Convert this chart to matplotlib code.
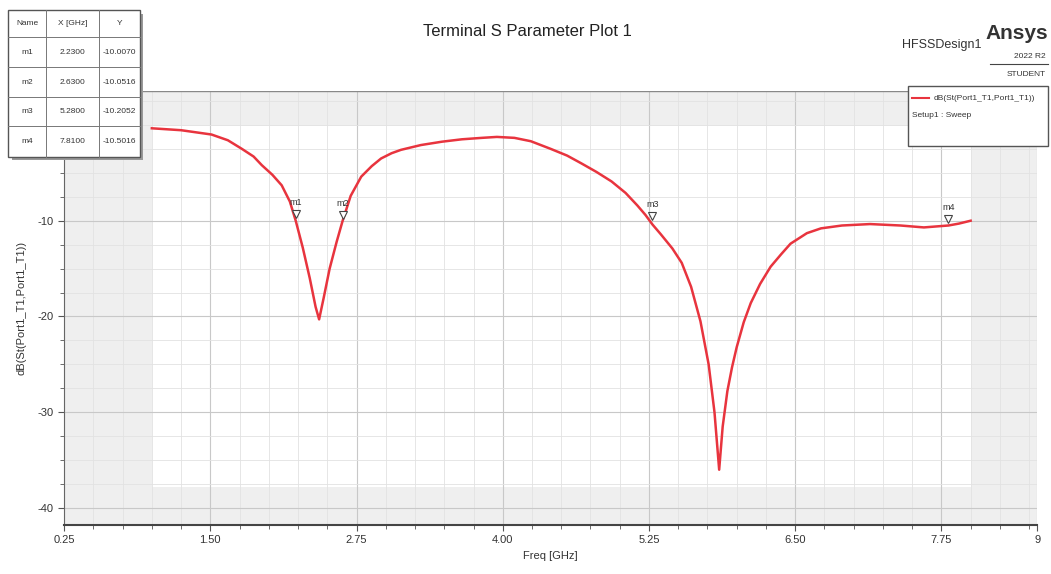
import numpy as np
import matplotlib
matplotlib.use("Agg")
import matplotlib.pyplot as plt
from matplotlib.patches import Rectangle

plt.rcParams['font.family'] = ['Liberation Sans Narrow', 'Liberation Sans', 'DejaVu Sans']

# S11 curve (GHz, dB)
freq = [1.00, 1.25, 1.51, 1.65, 1.77, 1.87, 1.94, 2.03, 2.11, 2.18, 2.23, 2.29,
        2.35, 2.40, 2.43, 2.47, 2.52, 2.58, 2.63, 2.70, 2.79, 2.88, 2.96, 3.05,
        3.13, 3.30, 3.48, 3.65, 3.82, 3.95, 4.10, 4.24, 4.41, 4.55, 4.67, 4.80,
        4.93, 5.05, 5.15, 5.22, 5.28, 5.35, 5.45, 5.53, 5.61, 5.69, 5.76, 5.81,
        5.85, 5.88, 5.92, 5.96, 6.00, 6.06, 6.12, 6.20, 6.29, 6.38, 6.46, 6.60,
        6.72, 6.90, 7.14, 7.40, 7.60, 7.81, 7.90, 8.00]
s11 = [-0.35, -0.55, -1.0, -1.6, -2.5, -3.3, -4.2, -5.2, -6.3, -8.0, -10.0, -12.8,
       -16.0, -19.0, -20.3, -18.0, -15.0, -12.2, -10.05, -7.4, -5.4, -4.3, -3.5, -2.95,
       -2.6, -2.1, -1.75, -1.5, -1.35, -1.25, -1.35, -1.7, -2.5, -3.2, -4.0, -4.9,
       -5.9, -7.1, -8.4, -9.4, -10.4, -11.4, -12.9, -14.4, -16.9, -20.5, -25.0, -30.0,
       -36.0, -31.5, -27.8, -25.3, -23.2, -20.6, -18.6, -16.6, -14.8, -13.5, -12.4, -11.3,
       -10.8, -10.5, -10.35, -10.5, -10.7, -10.5, -10.3, -10.0]

marker_names = ["m1", "m2", "m3", "m4"]
marker_x = [2.23, 2.63, 5.28, 7.81]
marker_y = [-10.0070, -10.0516, -10.2052, -10.5016]

xticks = [0.25, 1.50, 2.75, 4.00, 5.25, 6.50, 7.75, 8.57]
xticklabels = ["0.25", "1.50", "2.75", "4.00", "5.25", "6.50", "7.75", "9"]
yticks = [-40, -30, -20, -10]

fig = plt.figure(figsize=(10.51, 5.74), dpi=100)
ax = fig.add_axes([0.061, 0.0854, 0.926, 0.756])
ax.set_xlim(0.25, 8.57)
ax.set_ylim(-41.77, 3.54)
ax.set_facecolor("#efefef")

# white data region
ax.add_patch(Rectangle((min(freq), -37.8), max(freq) - min(freq), 37.7,
                       facecolor="white", edgecolor="none", zorder=0))

ax.set_xticks(xticks)
ax.set_xticklabels(xticklabels, fontsize=8)
ax.set_xticks(np.arange(0.25, 8.57, 0.25), minor=True)
ax.set_yticks(yticks)
ax.set_yticklabels([str(v) for v in yticks], fontsize=8)
ax.set_yticks(np.arange(-40, 3.5, 2.5), minor=True)
ax.grid(which="major", color="#c8c8c8", lw=0.8, zorder=1)
ax.grid(which="minor", color="#e2e2e2", lw=0.6, zorder=1)
ax.tick_params(which="both", direction="out", color="#555555", length=4, labelcolor="#333333")
ax.tick_params(which="minor", length=3)
for s in ["top", "right"]:
    ax.spines[s].set_visible(False)
ax.spines["left"].set_color("#666666")
ax.spines["bottom"].set_color("#444444")
ax.spines["bottom"].set_linewidth(1.5)
ax.axhline(3.54, color="#888888", lw=1)

ax.plot(freq, s11, color="#e8343e", lw=1.8, zorder=3, solid_joinstyle="round")

for n, mx, my in zip(marker_names, marker_x, marker_y):
    ax.plot(mx, my + 0.7, marker="v", ms=6, mfc="white", mec="#444444", mew=0.8, zorder=4)
    ax.text(mx, my + 1.4, n, fontsize=6.5, ha="center", va="bottom", color="#333333", zorder=4)

ax.set_xlabel("Freq [GHz]", fontsize=8, color="#333333")
ax.set_ylabel("dB(St(Port1_T1,Port1_T1))", fontsize=8, color="#333333", labelpad=8)

fig.text(0.502, 0.945, "Terminal S Parameter Plot 1", fontsize=12, ha="center", va="center", color="#222222")
fig.text(0.997, 0.942, "Ansys", fontsize=15, fontweight="bold", ha="right", va="center", color="#333333")
fig.text(0.934, 0.922, "HFSSDesign1", fontsize=9, ha="right", va="center", color="#333333")
fig.text(0.995, 0.902, "2022 R2", fontsize=6, ha="right", va="center", color="#333333")
fig.add_artist(plt.Line2D([0.942, 0.997], [0.889, 0.889], color="#444444", lw=0.8, transform=fig.transFigure))
fig.text(0.995, 0.871, "STUDENT", fontsize=6, ha="right", va="center", color="#333333")

# legend box
fig.add_artist(Rectangle((0.864, 0.745), 0.133, 0.106, transform=fig.transFigure,
                         facecolor="white", edgecolor="#555555", lw=1, zorder=5))
fig.add_artist(plt.Line2D([0.868, 0.884], [0.829, 0.829], color="#e8343e", lw=1.5,
                          transform=fig.transFigure, zorder=6))
fig.text(0.888, 0.829, "dB(St(Port1_T1,Port1_T1))", fontsize=6, va="center", color="#333333", zorder=6)
fig.text(0.868, 0.799, "Setup1 : Sweep", fontsize=6, va="center", color="#333333", zorder=6)

# marker table
col_x = [0.008, 0.044, 0.094, 0.133]
row_y = [0.982, 0.935, 0.883, 0.831, 0.780, 0.727]
fig.add_artist(Rectangle((col_x[0] + 0.003, row_y[-1] - 0.006), col_x[-1] - col_x[0], row_y[0] - row_y[-1],
                         transform=fig.transFigure, facecolor="#999999", edgecolor="none", zorder=6))
fig.add_artist(Rectangle((col_x[0], row_y[-1]), col_x[-1] - col_x[0], row_y[0] - row_y[-1],
                         transform=fig.transFigure, facecolor="white", edgecolor="#555555", lw=1, zorder=7))
for x in col_x[1:-1]:
    fig.add_artist(plt.Line2D([x, x], [row_y[-1], row_y[0]], color="#777777", lw=0.7,
                              transform=fig.transFigure, zorder=8))
for y in row_y[1:-1]:
    fig.add_artist(plt.Line2D([col_x[0], col_x[-1]], [y, y], color="#777777", lw=0.7,
                              transform=fig.transFigure, zorder=8))
rows = [["Name", "X [GHz]", "Y"]] + [[n, "%.4f" % mx, "%.4f" % my]
                                     for n, mx, my in zip(marker_names, marker_x, marker_y)]
for r, row in enumerate(rows):
    yc = (row_y[r] + row_y[r + 1]) / 2
    for c, val in enumerate(row):
        xc = (col_x[c] + col_x[c + 1]) / 2
        fig.text(xc, yc, val, fontsize=6, ha="center", va="center", color="#333333", zorder=9)

fig.savefig("out.png", dpi=100)
